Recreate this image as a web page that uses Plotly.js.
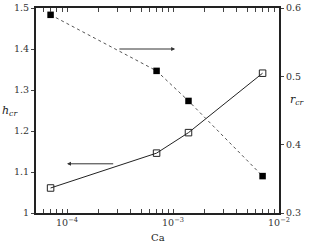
<!DOCTYPE html>
<html><head><meta charset="utf-8">
<script src="https://cdn.plot.ly/plotly-3.0.1.min.js"></script>
<style>body{margin:0;background:#fff}#c{width:312px;height:245px}</style>
</head><body><div id="c"></div>
<script>
const ca = [7e-5, 7e-4, 1.4e-3, 7e-3];
const hcr = [1.061, 1.146, 1.196, 1.341];
const rcr = [0.590, 0.508, 0.464, 0.354];
const xTickVals = [1e-4, 1e-3, 1e-2];
const xTickText = ['10<sup>−4</sup>', '10<sup>−3</sup>', '10<sup>−2</sup>'];

const font = {family: 'DejaVu Serif, Liberation Serif, serif', size: 9.5, color: '#333'};
const traces = [
  {x: ca, y: hcr, type: 'scatter', mode: 'lines+markers', yaxis: 'y',
   line: {color: '#222', width: 1},
   marker: {symbol: 'square-open', size: 6.5, color: '#222', line: {width: 1}}},
  {x: ca, y: rcr, type: 'scatter', mode: 'lines+markers', yaxis: 'y2',
   line: {color: '#555', width: 1, dash: 'dot'},
   marker: {symbol: 'square', size: 6.5, color: '#000'}}
];
const layout = {
  width: 312, height: 245,
  margin: {l: 36, r: 33, t: 8, b: 32},
  showlegend: false,
  paper_bgcolor: '#fff', plot_bgcolor: '#fff',
  font: font,
  xaxis: {type: 'log', range: [Math.log10(5.1e-5), -2], tickvals: xTickVals, ticktext: xTickText,
    ticks: 'inside', ticklen: 4, showgrid: false, zeroline: false,
    showline: true, linecolor: '#222', linewidth: 2, mirror: 'allticks',
    minor: {ticks: 'inside', ticklen: 2, dtick: 'D1', showgrid: false},
    tickfont: font},
  yaxis: {range: [1, 1.5], ticks: 'outside', ticklen: 3, showgrid: false, zeroline: false,
    showline: true, linecolor: '#222', linewidth: 2, tickfont: font,
    tickvals: [1, 1.1, 1.2, 1.3, 1.4, 1.5], ticktext: ['1', '1.1', '1.2', '1.3', '1.4', '1.5']},
  yaxis2: {range: [0.3, 0.6], overlaying: 'y', side: 'right', ticks: 'outside', ticklen: 3,
    showgrid: false, zeroline: false, showline: true, linecolor: '#222', linewidth: 2, tickfont: font,
    tickvals: [0.3, 0.4, 0.5, 0.6], ticktext: ['0.3', '0.4', '0.5', '0.6']},
  annotations: [
    {xref: 'x', yref: 'y', axref: 'x', ayref: 'y', x: -2.98, y: 1.4, ax: -3.52, ay: 1.4,
     text: '', showarrow: true, arrowhead: 2, arrowsize: 0.8, arrowwidth: 1, arrowcolor: '#333'},
    {xref: 'x', yref: 'y', axref: 'x', ayref: 'y', x: -4.0, y: 1.12, ax: -3.55, ay: 1.12,
     text: '', showarrow: true, arrowhead: 2, arrowsize: 0.8, arrowwidth: 1, arrowcolor: '#333'},
    {xref: 'paper', yref: 'paper', x: -0.148, xanchor: 'left', y: 0.5, text: '<i>h</i><sub><i>cr</i></sub>', showarrow: false,
     font: {family: 'DejaVu Serif, serif', size: 11, color: '#222'}},
    {xref: 'paper', yref: 'paper', x: 1.035, y: 0.55, xanchor: 'left', text: '<i>r</i><sub><i>cr</i></sub>', showarrow: false,
     font: {family: 'DejaVu Serif, serif', size: 11, color: '#222'}},
    {xref: 'paper', yref: 'paper', x: 0.5, y: -0.12, yanchor: 'middle', text: 'Ca', showarrow: false,
     font: {family: 'DejaVu Serif, serif', size: 10, color: '#222'}}
  ]
};
Plotly.newPlot('c', traces, layout, {staticPlot: true, displayModeBar: false});
</script></body></html>
